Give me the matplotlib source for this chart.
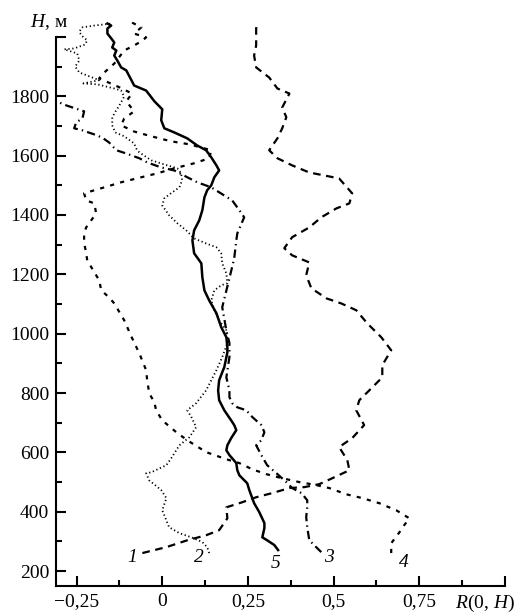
import matplotlib
matplotlib.use("Agg")
import matplotlib.pyplot as plt
from matplotlib.ticker import FixedLocator

plt.rcParams["font.family"] = ["Liberation Serif", "DejaVu Serif"]
plt.rcParams["mathtext.fontset"] = "custom"
plt.rcParams["mathtext.rm"] = "Liberation Serif"
plt.rcParams["mathtext.it"] = "Liberation Serif:italic"
plt.rcParams["lines.scale_dashes"] = False

# Profiles R(0, H): correlation value (R) against height H in metres
r1 = [-0.058, 0.012, 0.073, 0.128, 0.166, 0.190, 0.187, 0.233, 0.274, 0.321, 0.371, 0.414,
      0.458, 0.496, 0.546, 0.540, 0.516, 0.554, 0.589, 0.566, 0.575, 0.604, 0.642, 0.642,
      0.668, 0.639, 0.598, 0.566, 0.522, 0.479, 0.435, 0.420, 0.429, 0.379, 0.356, 0.379,
      0.429, 0.464, 0.508, 0.546, 0.554, 0.516, 0.473, 0.429, 0.379, 0.336, 0.312, 0.336,
      0.350, 0.362, 0.350, 0.371, 0.336, 0.312, 0.274, 0.268, 0.274, 0.274, 0.274, 0.277]
h1 = [261, 281, 304, 321, 338, 378, 415, 432, 449, 463, 480, 483,
      493, 513, 540, 574, 618, 648, 692, 742, 776, 809, 853, 894,
      944, 988, 1035, 1079, 1102, 1119, 1153, 1197, 1240, 1264, 1288, 1325,
      1358, 1392, 1422, 1439, 1473, 1523, 1533, 1543, 1567, 1591, 1618, 1658,
      1692, 1729, 1762, 1809, 1826, 1863, 1897, 1937, 1971, 1998, 2028, 2048]

r2 = [0.137, 0.131, 0.117, 0.085, 0.050, 0.020, 0.000, 0.012, -0.003, -0.038, -0.047, -0.032,
      0.012, 0.026, 0.050, 0.079, 0.099, 0.085, 0.073, 0.099, 0.128, 0.158, 0.175, 0.190,
      0.187, 0.166, 0.152, 0.143, 0.152, 0.172, 0.190, 0.187, 0.175, 0.172, 0.158, 0.128,
      0.093, 0.070, 0.044, 0.020, 0.000, 0.006, 0.029, 0.050, 0.058, 0.055, 0.044, 0.015,
      -0.032, -0.067, -0.076, -0.082, -0.111, -0.137, -0.146, -0.146, -0.140, -0.125, -0.111,
      -0.120, -0.140, -0.190, -0.230, -0.184, -0.213, -0.242, -0.254, -0.242, -0.248, -0.286,
      -0.257, -0.225, -0.219, -0.236, -0.242, -0.233, -0.198, -0.146]
h2 = [261, 281, 298, 314, 328, 348, 405, 446, 473, 506, 530, 533,
      557, 580, 624, 651, 685, 719, 742, 766, 809, 877, 921, 968,
      1011, 1045, 1079, 1112, 1146, 1163, 1170, 1203, 1237, 1271, 1291, 1304,
      1321, 1348, 1372, 1399, 1432, 1456, 1476, 1493, 1517, 1540, 1557, 1567,
      1584, 1611, 1624, 1641, 1665, 1678, 1702, 1725, 1742, 1769, 1799,
      1819, 1826, 1840, 1843, 1854, 1867, 1880, 1900, 1920, 1944, 1958,
      1961, 1974, 1988, 2005, 2018, 2032, 2038, 2045]

r3 = [0.464, 0.449, 0.429, 0.423, 0.420, 0.423, 0.423, 0.406, 0.379, 0.362, 0.333, 0.306,
      0.289, 0.274, 0.289, 0.298, 0.289, 0.263, 0.245, 0.219, 0.204, 0.196, 0.196, 0.187,
      0.196, 0.196, 0.187, 0.175, 0.196, 0.210, 0.216, 0.219, 0.239, 0.225, 0.204, 0.143,
      0.102, 0.073, 0.035, -0.003, -0.044, -0.067, -0.105, -0.134, -0.155, -0.172, -0.190,
      -0.233, -0.257, -0.251, -0.233, -0.228, -0.280, -0.309, -0.340]
h3 = [264, 281, 304, 348, 382, 415, 439, 463, 480, 500, 530, 557,
      591, 624, 641, 668, 692, 719, 742, 752, 766, 786, 809, 853,
      921, 968, 1011, 1089, 1187, 1254, 1314, 1338, 1392, 1416, 1449, 1493,
      1510, 1527, 1550, 1560, 1577, 1591, 1607, 1618, 1644, 1658, 1668,
      1685, 1692, 1712, 1725, 1749, 1769, 1783, 1795]

r4 = [0.668, 0.668, 0.692, 0.706, 0.721, 0.683, 0.633, 0.584, 0.537, 0.487, 0.449, 0.400,
      0.350, 0.303, 0.263, 0.225, 0.187, 0.128, 0.073, 0.041, 0.000, -0.018, -0.023, -0.038,
      -0.044, -0.047, -0.067, -0.088, -0.111, -0.140, -0.155, -0.178, -0.184, -0.207, -0.219,
      -0.222, -0.228, -0.228, -0.222, -0.193, -0.198, -0.222, -0.228, -0.169, -0.120, -0.061,
      -0.015, 0.035, 0.093, 0.137, 0.143, 0.079, 0.026, -0.032, -0.082, -0.120, -0.111,
      -0.082, -0.105, -0.088, -0.125, -0.184, -0.169, -0.140, -0.111, -0.082, -0.061, -0.047,
      -0.082, -0.061, -0.088]
h4 = [261, 294, 331, 355, 378, 405, 429, 446, 459, 480, 490, 500,
      513, 527, 543, 564, 577, 601, 641, 668, 708, 742, 769, 799,
      843, 877, 934, 985, 1045, 1102, 1122, 1146, 1180, 1224, 1247,
      1274, 1304, 1338, 1358, 1405, 1439, 1449, 1473, 1493, 1510, 1527,
      1540, 1557, 1574, 1591, 1618, 1638, 1648, 1665, 1681, 1702, 1725,
      1749, 1783, 1809, 1830, 1860, 1880, 1910, 1954, 1971, 1985, 1998,
      2011, 2032, 2048]

r5 = [0.338, 0.327, 0.306, 0.292, 0.298, 0.298, 0.283, 0.268, 0.254, 0.248, 0.225, 0.219,
      0.216, 0.196, 0.187, 0.190, 0.201, 0.216, 0.210, 0.201, 0.181, 0.166, 0.163, 0.166,
      0.175, 0.181, 0.190, 0.190, 0.187, 0.172, 0.158, 0.137, 0.123, 0.117, 0.114, 0.093,
      0.088, 0.093, 0.108, 0.117, 0.123, 0.131, 0.143, 0.152, 0.166, 0.158, 0.143, 0.128,
      0.102, 0.073, 0.035, 0.006, -0.003, 0.000, -0.023, -0.047, -0.082, -0.090, -0.105,
      -0.120, -0.131, -0.140, -0.134, -0.146, -0.140, -0.149, -0.160, -0.160, -0.149, -0.160]
h5 = [271, 288, 304, 314, 345, 362, 399, 429, 473, 496, 523, 540,
      564, 591, 607, 624, 648, 675, 692, 708, 742, 776, 809, 843,
      870, 887, 937, 954, 988, 1022, 1069, 1112, 1146, 1190, 1237, 1271,
      1314, 1348, 1382, 1416, 1459, 1483, 1500, 1527, 1550, 1567, 1594, 1618,
      1634, 1658, 1678, 1692, 1719, 1756, 1783, 1819, 1836, 1854, 1887,
      1897, 1920, 1937, 1954, 1964, 1981, 1995, 2011, 2028, 2038, 2045]

curve_names = ["1", "2", "3", "4", "5"]
name_r = [-0.088, 0.108, 0.487, 0.706, 0.330]
name_h = [247, 247, 247, 230, 227]

y_major = [200, 400, 600, 800, 1000, 1200, 1400, 1600, 1800, 2000]
y_labels = ["200", "400", "600", "800", "1000", "1200", "1400", "1600", "1800", ""]
y_minor = [300, 500, 700, 900, 1100, 1300, 1500, 1700, 1900]
x_major = [-0.25, 0, 0.25, 0.5, 0.75, 1.0]
x_labels = ["\u22120,25", "0", "0,25", "0,5", "0,75", ""]
x_minor = [-0.125, 0.125, 0.375, 0.625, 0.875]

fig = plt.figure(figsize=(5.18, 6.13), dpi=100)
ax = fig.add_axes([56 / 518, 1 - 586 / 613, 449 / 518, 564 / 613])

ax.plot(r1, h1, color="black", lw=1.6, dashes=(5.5, 4.0))
ax.plot(r2, h2, color="black", lw=1.3, dashes=(0.9, 1.9))
ax.plot(r3, h3, color="black", lw=1.6, dashes=(6.0, 3.0, 1.0, 3.0))
ax.plot(r4, h4, color="black", lw=1.6, dashes=(3.0, 4.5))
ax.plot(r5, h5, color="black", lw=1.8)

for name, xr, yh in zip(curve_names, name_r, name_h):
    ax.text(xr, yh, name, fontsize=14, style="italic", ha="center", va="center")

ax.set_xlim(-0.31, 1.0)
ax.set_ylim(150, 2050)

ax.spines["top"].set_visible(False)
ax.spines["right"].set_visible(False)
ax.spines["left"].set_bounds(150, 2000)
for s in ("left", "bottom"):
    ax.spines[s].set_linewidth(1.5)

ax.yaxis.set_major_locator(FixedLocator(y_major))
ax.set_yticklabels(y_labels)
ax.yaxis.set_minor_locator(FixedLocator(y_minor))
ax.xaxis.set_major_locator(FixedLocator(x_major))
ax.set_xticklabels(x_labels)
ax.xaxis.set_minor_locator(FixedLocator(x_minor))

ax.tick_params(which="major", direction="in", length=7, width=1.5, labelsize=14, pad=5)
ax.tick_params(which="minor", direction="in", length=4, width=1.5)

fig.text(515 / 518, 1 - 603 / 613, "$R(0,\\,H)$", fontsize=14, ha="right", va="center")
fig.text(30 / 518, 1 - 22 / 613, "$H$, м", fontsize=14, ha="left", va="center")

fig.savefig("out.png", dpi=100)
